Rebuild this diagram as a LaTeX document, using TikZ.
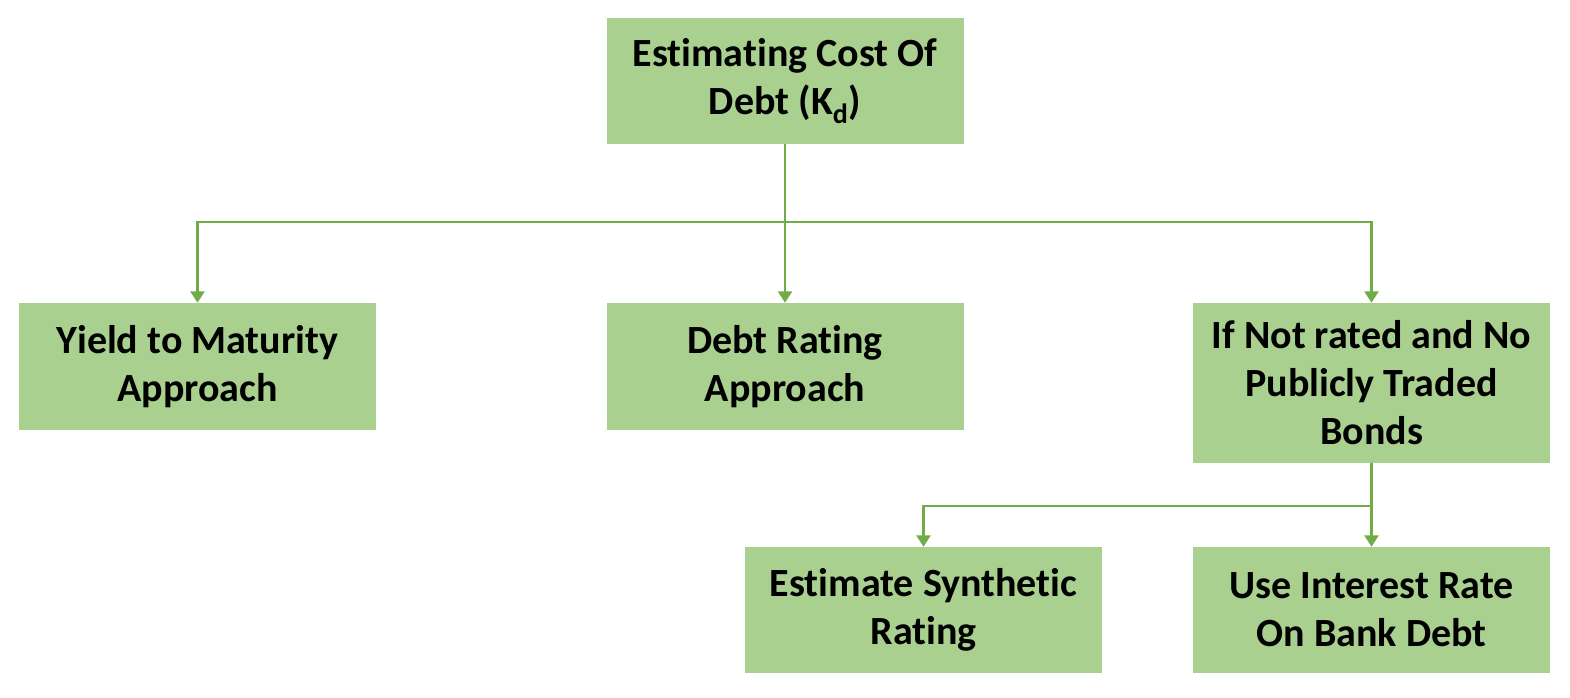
\documentclass[tikz,border=0pt]{standalone}
\usepackage{fontspec}
\setmainfont[RawFeature={-liga;-calt;-clig}]{Carlito}
\usetikzlibrary{arrows.meta}
\definecolor{boxfill}{HTML}{A9D08E}
\definecolor{linec}{HTML}{70AD47}
\newcommand\tiNL{t\kern0pt i}
\begin{document}
\begin{tikzpicture}[x=0.75pt,y=-0.75pt,
  box/.style={fill=boxfill, draw=none, minimum width=357*0.75pt, align=center,
    font=\fontsize{30}{36}\selectfont\bfseries, inner sep=0pt},
  conn/.style={draw=linec, line width=1.6pt},
  arr/.style={conn, -{Triangle[width=10.5pt,length=8.5pt]}}]
\useasboundingbox (0,0) rectangle (1570,698);
\node[box, minimum height=126*0.75pt] (top) at (785,81) {Estima\tiNL ng Cost Of\\Debt (K\textsubscript{d})};
\node[box, minimum height=127*0.75pt] (yield) at (197.5,366.5) {Yield to Maturity\\Approach};
\node[box, minimum height=127*0.75pt] (debt) at (785,366.5) {Debt Ra\tiNL ng\\Approach};
\node[box, minimum height=160*0.75pt] (ifnot) at (1371.5,383) {If Not rated and No\\Publicly Traded\\Bonds};
\node[box, minimum height=126*0.75pt] (synth) at (923.5,610) {Es\tiNL mate Synthe\tiNL c\\Ra\tiNL ng};
\node[box, minimum height=126*0.75pt] (use) at (1371.5,610) {Use Interest Rate\\On Bank Debt};
\coordinate (j1) at (785,222);
\coordinate (j2) at (1371.5,506);
\draw[arr] (top.south) -- (debt.north);
\draw[arr] (j1) -| (yield.north);
\draw[arr] (j1) -| (ifnot.north);
\draw[arr] (ifnot.south) -- (use.north);
\draw[arr] (j2) -| (synth.north);
\end{tikzpicture}
\end{document}
